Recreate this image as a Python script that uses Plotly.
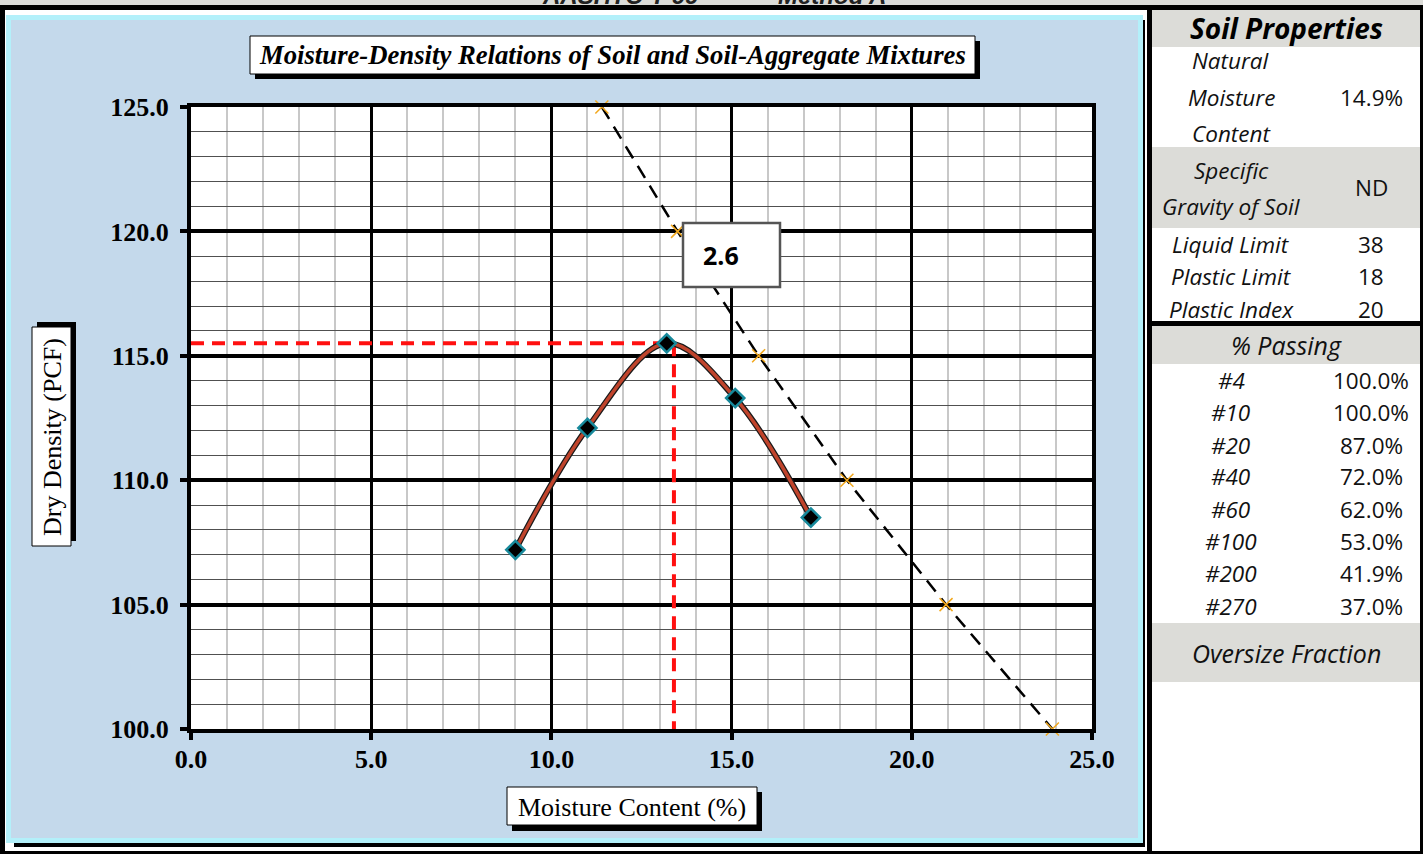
import plotly.graph_objects as go

# ---------------- data ----------------
moisture = [9.0, 11.0, 13.2, 15.1, 17.2]
dry_density = [107.2, 112.1, 115.5, 113.3, 108.5]

zav_moisture = [11.4, 13.5, 15.75, 18.2, 20.95, 23.9]
zav_density = [125.0, 120.0, 115.0, 110.0, 105.0, 100.0]
zav_label = "2.6"

opt_moisture = 13.4
max_density = 115.5

x_ticks = [0.0, 5.0, 10.0, 15.0, 20.0, 25.0]
y_ticks = [100.0, 105.0, 110.0, 115.0, 120.0, 125.0]

chart_title = "Moisture-Density Relations of Soil and Soil-Aggregate Mixtures"
x_title = "Moisture Content (%)"
y_title = "Dry Density (PCF)"
page_title_left = "AASHTO T-99"
page_title_right = "Method A"

prop_header = "Soil Properties"
prop_label_lines = [["Natural", "Moisture", "Content"], ["Specific", "Gravity of Soil"],
                    ["Liquid Limit"], ["Plastic Limit"], ["Plastic Index"]]
prop_values = ["14.9%", "ND", "38", "18", "20"]

sieve_header = "% Passing"
sieve_labels = ["#4", "#10", "#20", "#40", "#60", "#100", "#200", "#270"]
sieve_passing = [100.0, 100.0, 87.0, 72.0, 62.0, 53.0, 41.9, 37.0]
oversize_label = "Oversize Fraction"

# ---------------- layout helpers ----------------
W, H = 1423, 854


def px(x):
    return x / W


def py(y):
    return 1 - y / H


shapes = []


def rect(x0, y0, x1, y1, fill, line_color=None, line_width=0, layer="below"):
    shapes.append(dict(type="rect", xref="paper", yref="paper",
                       x0=px(x0), x1=px(x1), y0=py(y1), y1=py(y0),
                       fillcolor=fill, layer=layer,
                       line=dict(color=line_color or fill, width=line_width)))


annotations = []


def text(x, y, s, size=22.5, family="Open Sans", weight="normal", style="normal",
         color="#111111", xanchor="center", angle=0):
    annotations.append(dict(xref="paper", yref="paper", x=px(x), y=py(y), text=s,
                            showarrow=False, xanchor=xanchor, yanchor="middle",
                            textangle=angle, borderpad=0,
                            font=dict(family=family, size=size, weight=weight,
                                      style=style, color=color)))


GRAY = "#dcdcd8"
# page frame
rect(0, 0, W, 5, GRAY)
rect(0, 10, 5, H, "black")
rect(0, 851, W, H, "black")
rect(1420, 10, W, H, "black")
rect(1147, 10, 1152, H, "black")
# chart area
rect(14, 20, 1145, 847, "black")
rect(6, 15, 1143, 843, "#b3f0fa")
rect(11, 20, 1138, 838, "#c4d9eb")
rect(191, 107, 1092, 729, "white")
# title boxes with shadows
rect(255, 41, 980, 79, "black")
rect(250, 36, 975, 74, "white", "black", 1)
rect(37, 322, 76, 541, "black")
rect(32, 327, 71, 546, "white", "black", 1)
rect(512, 792, 762, 831, "black")
rect(507, 787, 757, 825, "white", "black", 1)
# table gray rows
rect(1152, 10, 1420, 47, GRAY)
rect(1152, 147, 1420, 228, GRAY)
rect(1152, 326, 1420, 364, GRAY)
rect(1152, 623, 1420, 682, GRAY)
rect(1150, 321, W, 326, "black")
# ZAV label box (above traces)
rect(683, 223, 780, 287, "white", "#555555", 2.5, layer="above")
# top frame line drawn above the (cropped) page heading
rect(0, 5, W, 10, "black", layer="above")

# texts
serif = "Liberation Serif"
text(620, -4, page_title_left, size=24, family="Liberation Sans", weight="bold", style="italic", color="#222222")
text(832, -4, page_title_right, size=24, family="Liberation Sans", weight="bold", style="italic", color="#222222")
text(612, 55, chart_title, size=26.7, family=serif, weight="bold", style="italic", color="black")
text(632, 807, x_title, size=26, family=serif, color="black")
text(52, 437, y_title, size=26, family=serif, color="black", angle=-90)
text(721, 255, zav_label, size=25, family="Open Sans", weight="bold", color="black")

text(1286, 28, prop_header, size=28, weight="bold", style="italic", color="black")
label_y = [[61, 97, 133], [170, 206], [244], [276], [309]]
value_y = [97, 187, 244, 276, 309]
for lines, ys, val, vy in zip(prop_label_lines, label_y, prop_values, value_y):
    for ln, yy in zip(lines, ys):
        text(1231, yy, ln, style="italic")
    text(1371, vy, val)

text(1286, 345, sieve_header, style="italic", size=25)
sieve_y = [380, 412, 445, 477, 509, 541, 573, 606]
for lab, val, yy in zip(sieve_labels, sieve_passing, sieve_y):
    text(1231, yy, lab, style="italic")
    text(1371, yy, f"{val:.1f}%")
text(1286, 653, oversize_label, style="italic", size=25)

# ---------------- traces ----------------
fig = go.Figure()

fig.add_trace(go.Scatter(
    x=zav_moisture, y=zav_density, mode="lines+markers",
    line=dict(color="black", width=2.5, dash="14px,9px"),
    marker=dict(symbol="x-thin", size=13, color="#f2a81d",
                line=dict(color="#f2a81d", width=1.5)),
    cliponaxis=False, hoverinfo="skip"))

fig.add_trace(go.Scatter(
    x=[x_ticks[0], opt_moisture, None, opt_moisture, opt_moisture],
    y=[max_density, max_density, None, max_density, y_ticks[0]],
    mode="lines", line=dict(color="#ff1010", width=4, dash="13px,8px"),
    hoverinfo="skip"))

fig.add_trace(go.Scatter(
    x=moisture, y=dry_density, mode="lines",
    line=dict(color="#1a1a1a", width=6, shape="spline", smoothing=1.0),
    hoverinfo="skip"))
fig.add_trace(go.Scatter(
    x=moisture, y=dry_density, mode="lines",
    line=dict(color="#c0442c", width=3.5, shape="spline", smoothing=1.0),
    hoverinfo="skip"))
fig.add_trace(go.Scatter(
    x=moisture, y=dry_density, mode="markers",
    marker=dict(symbol="diamond", size=14, color="black",
                line=dict(color="#17899b", width=2.5)),
    cliponaxis=False))

tickfont = dict(family=serif, size=26, weight="bold", color="black")
fig.update_layout(
    width=W, height=H, autosize=False,
    margin=dict(l=0, r=0, t=0, b=0, pad=0, autoexpand=False),
    paper_bgcolor="white", plot_bgcolor="white",
    showlegend=False,
    shapes=shapes, annotations=annotations,
    xaxis=dict(range=[x_ticks[0], x_ticks[-1]], domain=[px(191), px(1092)],
               tickvals=x_ticks, ticktext=[f"{v:.1f}" for v in x_ticks],
               showgrid=True, gridcolor="black", gridwidth=2.5,
               minor=dict(dtick=1, showgrid=True, gridcolor="#c8c8c8", gridwidth=1.5),
               showline=True, linecolor="black", linewidth=4, mirror=True,
               ticks="outside", ticklen=7, tickwidth=4, tickcolor="black",
               tickfont=tickfont, zeroline=False, fixedrange=True,
               automargin=False, ticklabelstandoff=-3),
    yaxis=dict(range=[y_ticks[0], y_ticks[-1]], domain=[py(729), py(107)],
               tickvals=y_ticks, ticktext=[f"{v:.1f}" for v in y_ticks],
               showgrid=True, gridcolor="black", gridwidth=4,
               minor=dict(dtick=1, showgrid=True, gridcolor="#505050", gridwidth=1.2),
               showline=True, linecolor="black", linewidth=4, mirror=True,
               ticks="outside", ticklen=7, tickwidth=4, tickcolor="black",
               tickfont=tickfont, zeroline=False, fixedrange=True,
               automargin=False, ticklabelstandoff=6),
)

fig.write_html("out.html", config={"displayModeBar": False},
               post_script="document.body.style.margin='0';document.body.style.overflow='hidden';")
